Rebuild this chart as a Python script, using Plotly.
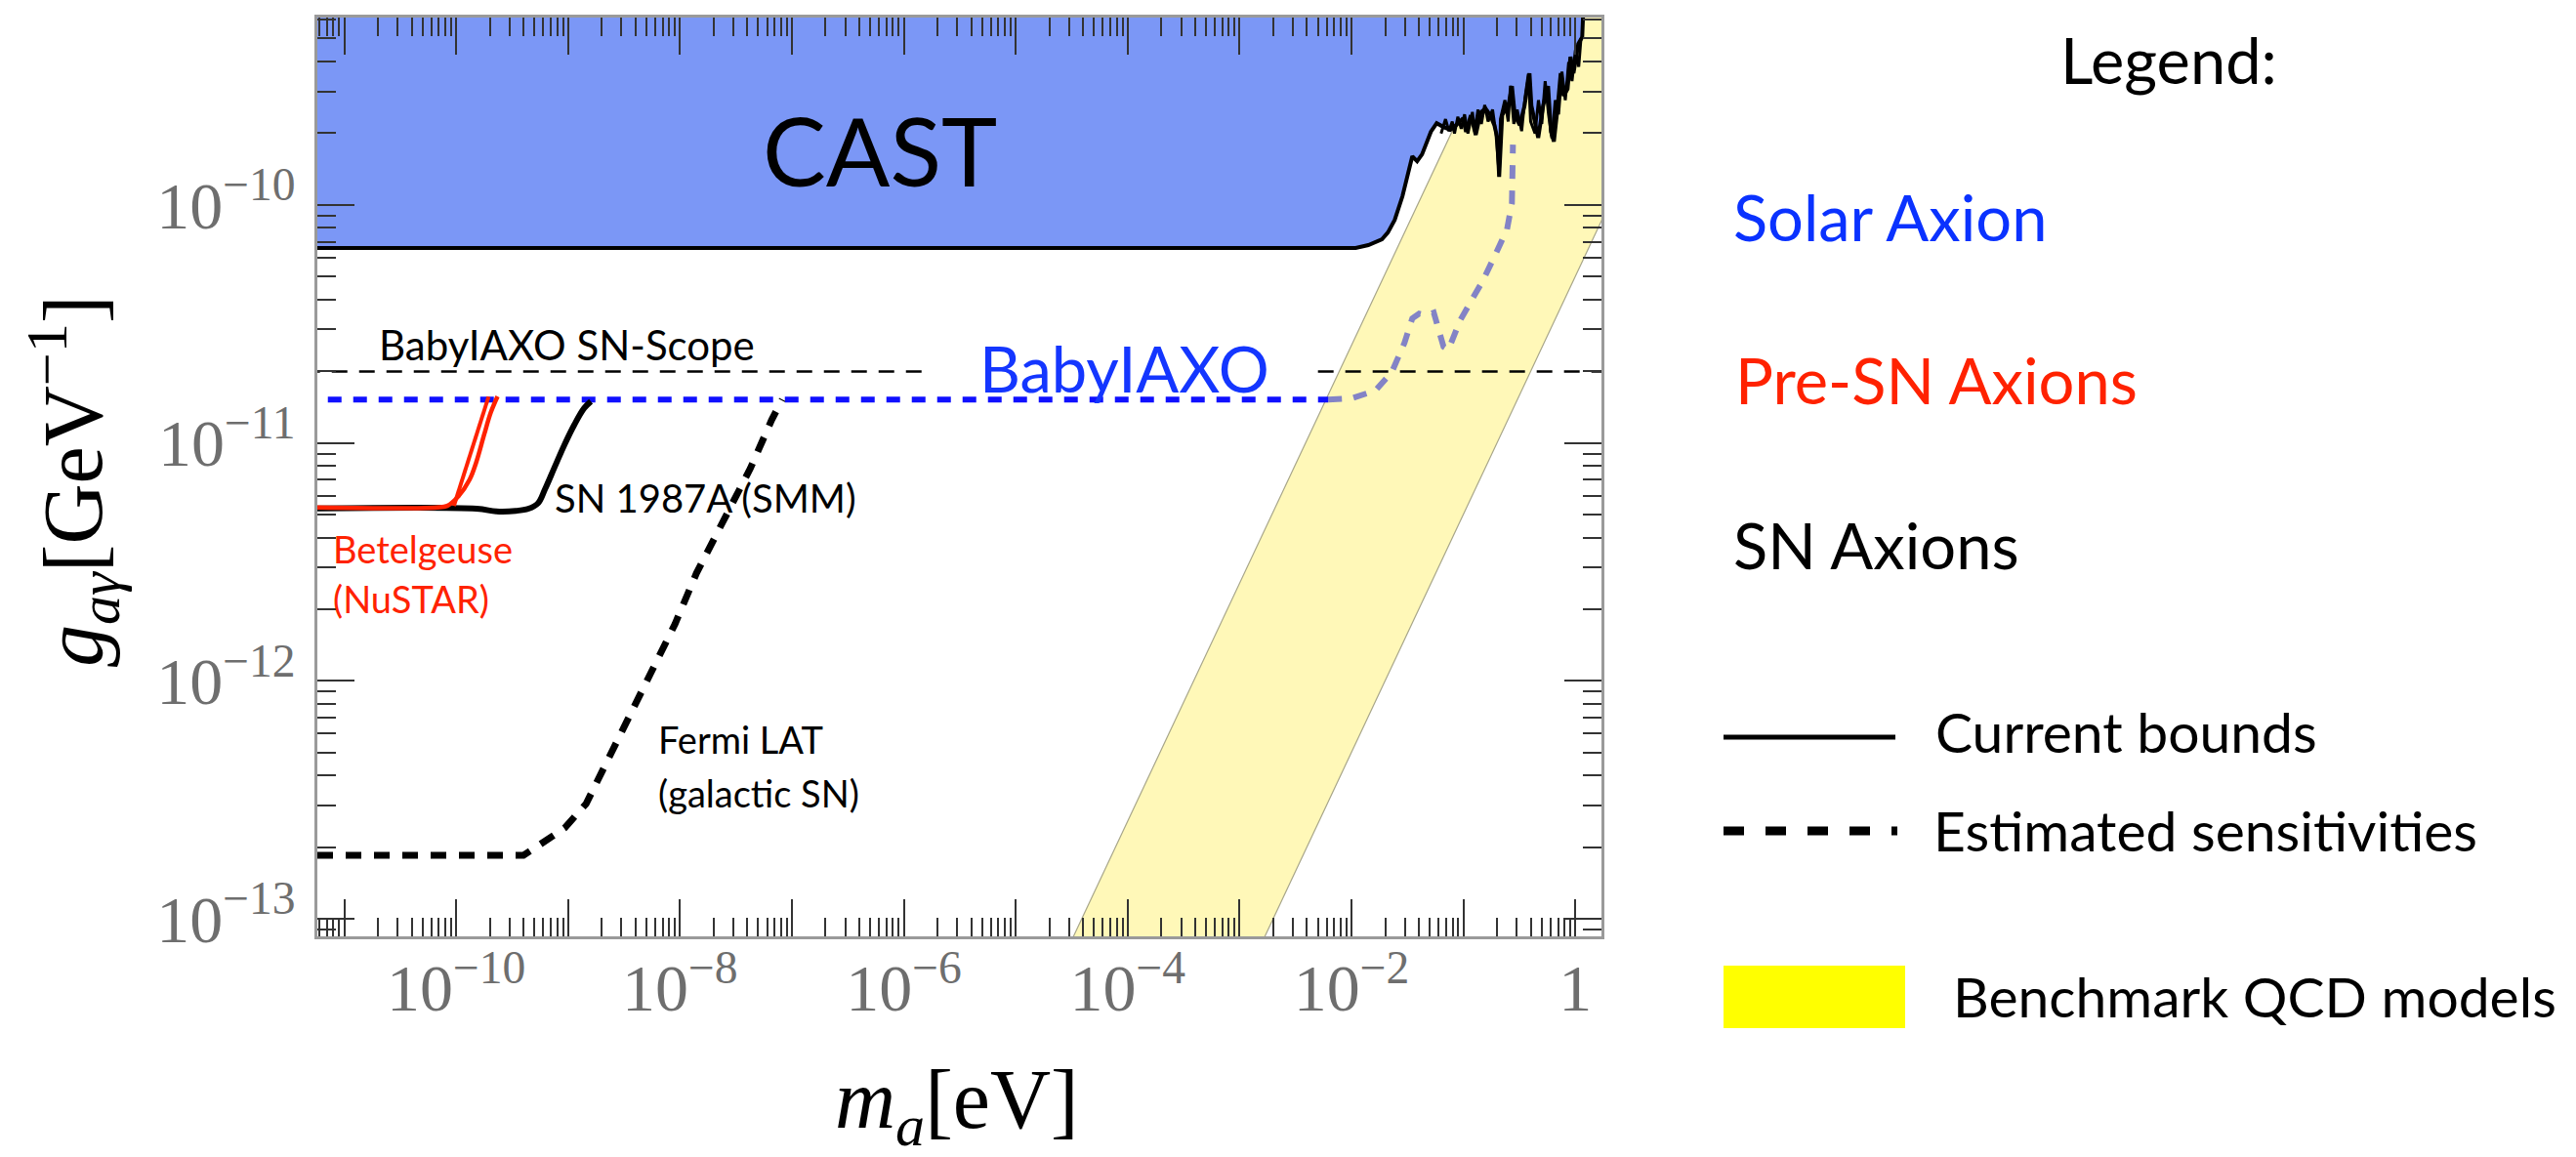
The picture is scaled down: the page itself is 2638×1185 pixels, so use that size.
import numpy as np
import plotly.graph_objects as go

# ---------------- figure geometry (pixels) ----------------
W, H = 2638, 1185
PL, PR, PT, PB = 317, 1632, 10, 951   # plot area edges

# ---------------- data (log10 of m_a [eV] and g [GeV^-1]) ----------------
x_range = [-11.24, 0.233]
y_range = [-13.074, -9.213]

# CAST excluded region (boundary curve, noisy at high mass)
cast_log_m = [-11.6, -1.963, -1.850, -1.728, -1.675, -1.614, -1.545, -1.501, -1.457, -1.414,
              -1.370, -1.291, -1.239, -1.178, -1.117, -1.065, -1.003, -0.977, -0.934, -0.890,
              -0.846, -0.803, -0.759, -0.724, -0.698, -0.681, -0.663, -0.654, -0.593, -0.567,
              -0.541, -0.497, -0.454, -0.410, -0.393, -0.375, -0.332, -0.288, -0.244, -0.218,
              -0.192, -0.157, -0.131, -0.105, -0.070, -0.044, -0.017, 0.026, 0.061, 0.070]
cast_log_g = [-10.181, -10.181, -10.169, -10.145, -10.116, -10.063, -9.964, -9.882, -9.796, -9.817,
              -9.788, -9.693, -9.657, -9.673, -9.685, -9.665, -9.636, -9.693, -9.624, -9.706,
              -9.611, -9.595, -9.624, -9.665, -9.718, -9.882, -9.665, -9.624, -9.570, -9.501,
              -9.624, -9.665, -9.583, -9.447, -9.583, -9.624, -9.718, -9.583, -9.501, -9.693,
              -9.734, -9.583, -9.447, -9.542, -9.513, -9.378, -9.447, -9.324, -9.295, -9.190]
cast_top_log_g = -8.9

# extra fine-scale fluctuations of the CAST limit at high mass
cast_noise_log_m = [-1.20, -1.16, -1.13, -1.10, -1.08, -1.05, -1.02, -0.99, -0.96, -0.92,
                    -0.90, -0.87, -0.84, -0.81, -0.78, -0.74, -0.71, -0.68, -0.67, -0.63,
                    -0.60, -0.58, -0.55, -0.52, -0.48, -0.45, -0.42, -0.40, -0.36, -0.33,
                    -0.30, -0.27, -0.24, -0.21, -0.18, -0.15, -0.12, -0.09, -0.06, -0.03,
                    0.00, 0.03, 0.05]
cast_noise_log_g = [-9.700, -9.640, -9.690, -9.650, -9.700, -9.630, -9.680, -9.620, -9.700, -9.610,
                    -9.690, -9.600, -9.660, -9.580, -9.650, -9.600, -9.700, -9.880, -9.640, -9.560,
                    -9.650, -9.500, -9.660, -9.600, -9.690, -9.550, -9.450, -9.650, -9.700, -9.560,
                    -9.660, -9.480, -9.620, -9.720, -9.560, -9.620, -9.440, -9.560, -9.400, -9.480,
                    -9.350, -9.420, -9.300]

# Benchmark QCD band (upper and lower edges)
qcd_edge_log_m = [-5.0, 0.5]
qcd_upper_log_g = [-13.59, -8.09]
qcd_lower_log_g = [-15.30, -9.80]

# BabyIAXO (solar) sensitivity
babyiaxo_flat_log_m = [-11.6, -2.208]
babyiaxo_flat_log_g = [-10.818, -10.818]
babyiaxo_band_log_m = [-2.208, -2.007, -1.789, -1.640, -1.527, -1.457, -1.396, -1.326, -1.265,
                       -1.222, -1.178, -1.134, -1.073, -1.030, -0.916, -0.829, -0.716, -0.611,
                       -0.567, -0.567, -0.558]
babyiaxo_band_log_g = [-10.818, -10.814, -10.781, -10.703, -10.580, -10.477, -10.457, -10.465,
                       -10.453, -10.527, -10.596, -10.609, -10.527, -10.486, -10.391, -10.321,
                       -10.210, -10.104, -9.993, -9.858, -9.747]

# BabyIAXO SN-Scope (gap left for the BabyIAXO label)
scope_log_m = [-11.6, -5.81, None, -2.30, 0.5]
scope_log_g = [-10.700, -10.700, None, -10.700, -10.700]

# SN 1987A (SMM)
sn1987_log_m = [-11.24, -9.817, -9.642, -9.468, -9.354, -9.267, -9.206, -9.119, -9.031, -8.944,
                -8.857, -8.796]
sn1987_log_g = [-11.276, -11.277, -11.288, -11.286, -11.277, -11.253, -11.195, -11.101, -11.007,
                -10.924, -10.855, -10.826]

# Betelgeuse (NuSTAR), two curves
betel1_log_m = [-11.24, -10.17, -10.08, -9.98, -9.88, -9.82, -9.75, -9.69, -9.63]
betel1_log_g = [-11.272, -11.272, -11.265, -11.225, -11.155, -11.081, -10.966, -10.872, -10.805]
betel2_log_m = [-10.02, -9.71]
betel2_log_g = [-11.265, -10.806]

# Fermi LAT (galactic SN)
fermi_log_m = [-11.24, -9.398, -9.267, -9.031, -8.839, -8.613, -8.421, -8.229, -8.045, -7.853,
               -7.661, -7.373, -7.181, -7.086]
fermi_log_g = [-12.733, -12.733, -12.693, -12.619, -12.517, -12.299, -12.119, -11.942, -11.762,
               -11.548, -11.368, -11.109, -10.904, -10.818]

x_tick_exps = list(range(-11, 1))
y_tick_exps = [-13, -12, -11, -10]


def p10(v):
    return [None if a is None else 10.0 ** a for a in v]


def sup_label(e):
    if e == 0:
        return "1"
    return "10<sup>\u2212%d</sup>" % (-e)


fig = go.Figure()

# QCD band
band_m = qcd_edge_log_m + qcd_edge_log_m[::-1]
band_g = qcd_upper_log_g + qcd_lower_log_g[::-1]
fig.add_trace(go.Scatter(x=p10(band_m), y=p10(band_g), fill="toself", mode="lines",
                         fillcolor="#fff8b8", line=dict(color="#a8a68a", width=1.2),
                         hoverinfo="skip", showlegend=False))

# BabyIAXO inside band (lavender)
fig.add_trace(go.Scatter(x=p10(babyiaxo_band_log_m), y=p10(babyiaxo_band_log_g), mode="lines",
                         line=dict(color="#8383c6", width=6, dash="14px,12px"),
                         hoverinfo="skip", showlegend=False))

# CAST region
cm = cast_log_m + [cast_log_m[-1], cast_log_m[0]]
cg = cast_log_g + [cast_top_log_g, cast_top_log_g]
fig.add_trace(go.Scatter(x=p10(cm), y=p10(cg), fill="toself", mode="lines",
                         fillcolor="#7b97f6", line=dict(color="black", width=4),
                         hoverinfo="skip", showlegend=False))
fig.add_trace(go.Scatter(x=p10(cast_noise_log_m), y=p10(cast_noise_log_g), mode="lines",
                         line=dict(color="black", width=3),
                         hoverinfo="skip", showlegend=False))

# SN-Scope
fig.add_trace(go.Scatter(x=p10(scope_log_m), y=p10(scope_log_g), mode="lines",
                         line=dict(color="black", width=2.5, dash="16px,12px"),
                         connectgaps=False, hoverinfo="skip", showlegend=False))

# BabyIAXO flat
fig.add_trace(go.Scatter(x=p10(babyiaxo_flat_log_m), y=p10(babyiaxo_flat_log_g), mode="lines",
                         line=dict(color="#1010ff", width=6, dash="14px,12px"),
                         hoverinfo="skip", showlegend=False))

# Fermi LAT
fig.add_trace(go.Scatter(x=p10(fermi_log_m), y=p10(fermi_log_g), mode="lines",
                         line=dict(color="black", width=7, dash="16px,13px"),
                         hoverinfo="skip", showlegend=False))

# SN 1987A
fig.add_trace(go.Scatter(x=p10(sn1987_log_m), y=p10(sn1987_log_g), mode="lines",
                         line=dict(color="black", width=6, shape="spline"),
                         hoverinfo="skip", showlegend=False))

# Betelgeuse
fig.add_trace(go.Scatter(x=p10(betel1_log_m), y=p10(betel1_log_g), mode="lines",
                         line=dict(color="#ff2200", width=4.5, shape="spline"),
                         hoverinfo="skip", showlegend=False))
fig.add_trace(go.Scatter(x=p10(betel2_log_m), y=p10(betel2_log_g), mode="lines",
                         line=dict(color="#ff2200", width=4),
                         hoverinfo="skip", showlegend=False))

# ---------------- axes ----------------
minor_x = [k * 10.0 ** d for d in range(-12, 1) for k in range(2, 10)]
minor_y = [k * 10.0 ** d for d in range(-14, -8) for k in range(2, 10)]

tickfont = dict(family="Liberation Serif", size=68, color="#6e6e6e")
common = dict(type="log", showgrid=False, zeroline=False, showline=True,
              linecolor="#9a9a9a", linewidth=2.5, mirror="allticks",
              ticks="inside", ticklen=38, tickwidth=2, tickcolor="#333333",
              tickfont=tickfont, tickmode="array")

fig.update_xaxes(range=x_range,
                 tickvals=p10(x_tick_exps),
                 ticktext=[sup_label(e) if e % 2 == 0 else "" for e in x_tick_exps],
                 ticklabelstandoff=-8,
                 minor=dict(ticks="inside", ticklen=19, tickwidth=2, tickcolor="#333333",
                            tickmode="array", tickvals=minor_x, showgrid=False),
                 **common)
fig.update_yaxes(range=y_range,
                 tickvals=p10(y_tick_exps),
                 ticktext=[sup_label(e) for e in y_tick_exps],
                 ticklabelstandoff=6,
                 minor=dict(ticks="inside", ticklen=19, tickwidth=2, tickcolor="#333333",
                            tickmode="array", tickvals=minor_y, showgrid=False),
                 **common)


# ---------------- annotations ----------------
def px(x):
    return (x - PL) / (PR - PL)


def py(y):
    return (PB - y) / (PB - PT)


SANS = "Lato"
ann = []


def text(s, x, y, size, color="black", xanchor="left", family=SANS, angle=0):
    ann.append(dict(text=s, x=px(x), y=py(y), xref="paper", yref="paper", showarrow=False,
                    xanchor=xanchor, yanchor="middle", textangle=angle,
                    font=dict(family=family, size=size, color=color)))


text("CAST", 893, 146, 97, xanchor="center")
text("BabyIAXO", 1143, 369, 65, color="#1436ff", xanchor="center")
text("BabyIAXO SN-Scope", 378, 345, 42)
text("SN 1987A (SMM)", 558, 502, 40)
text("Betelgeuse", 331, 554, 38, color="#ff2200")
text("(NuSTAR)", 331, 605, 38, color="#ff2200")
text("Fermi LAT", 664, 749, 38)
text("(galactic SN)", 664, 804, 38)

# axis titles
text("<i>g</i><sub><i>a\u03b3</i></sub>[GeV<sup>\u22121</sup>]", 66, 485, 86,
     xanchor="center", family="Liberation Serif", angle=-90)
text("<i>m</i><sub><i>a</i></sub>[eV]", 972, 1124, 86, xanchor="center", family="Liberation Serif")

# legend block
text("Legend:", 2100, 53, 65)
text("Solar Axion", 1765, 214, 65, color="#0a32ff")
text("Pre-SN Axions", 1767, 381, 65, color="#ff2200")
text("SN Axions", 1765, 550, 65)
text("Current bounds", 1972, 741, 57)
text("Estimated sensitivities", 1970, 842, 57)
text("Benchmark QCD models", 1990, 1012, 57)

shapes = [
    dict(type="line", xref="paper", yref="paper", x0=px(1757), x1=px(1933), y0=py(747), y1=py(747),
         line=dict(color="black", width=5)),
    dict(type="line", xref="paper", yref="paper", x0=px(1757), x1=px(1935), y0=py(843), y1=py(843),
         line=dict(color="black", width=9, dash="21px,22px")),
    dict(type="rect", xref="paper", yref="paper", x0=px(1757), x1=px(1943), y0=py(1045), y1=py(981),
         fillcolor="#ffff00", line=dict(width=0)),
]

fig.update_layout(width=W, height=H, autosize=False,
                  margin=dict(l=PL, r=W - PR, t=PT, b=H - PB, pad=0, autoexpand=False),
                  paper_bgcolor="white", plot_bgcolor="white",
                  showlegend=False, annotations=ann, shapes=shapes)

fig.write_html("out.html")
